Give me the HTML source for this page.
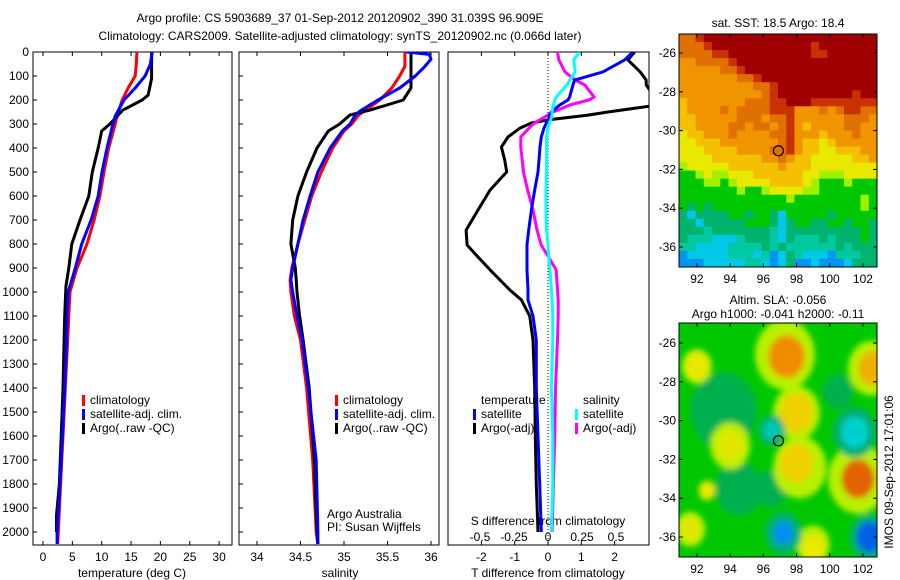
<!DOCTYPE html>
<html><head><meta charset="utf-8"><style>
html,body{margin:0;padding:0;background:#fff;}
svg{display:block;font-family:"Liberation Sans",sans-serif;font-size:12px;}
</style></head><body>
<svg id="c" width="900" height="580" xmlns="http://www.w3.org/2000/svg">
<defs>
<clipPath id="cp1"><rect x="33" y="52" width="199" height="493"/></clipPath>
<clipPath id="cp2"><rect x="239" y="52" width="200" height="493"/></clipPath>
<clipPath id="cp3"><rect x="448" y="52" width="201" height="493"/></clipPath>
<clipPath id="cpm1"><rect x="679" y="34" width="198" height="233"/></clipPath>
<clipPath id="cpm2"><rect x="679" y="323" width="198" height="234"/></clipPath>
<filter id="bl" x="-10%" y="-10%" width="120%" height="120%"><feGaussianBlur stdDeviation="3"/></filter>
</defs>
<text x="340" y="22" text-anchor="middle">Argo profile: CS 5903689_37 01-Sep-2012 20120902_390 31.039S 96.909E</text>
<text x="340" y="40" text-anchor="middle">Climatology: CARS2009. Satellite-adjusted climatology: synTS_20120902.nc (0.066d later)</text>
<g id="g"></g>
</svg>
<script>
// ---------------- data ----------------
const depthT   = [0,50,100,150,200,267,300,400,500,600,700,800,900,1000,1100,1200,1400,1600,1800,2000,2050];
const tempClim = [16,15.9,15.7,14.5,13.5,12.6,12.3,11.2,10.4,9.7,8.7,7.5,5.8,4.6,4.4,4.2,3.8,3.4,3.0,2.6,2.5];
const tempSat  = [18.6,18.3,17.4,15.7,13.8,12.3,11.9,10.9,10.05,9.4,8.2,6.6,5.5,4.3,4.1,4.0,3.7,3.3,2.9,2.4,2.4];
const depthArgo = [0,110,180,200,242,300,329,400,500,600,700,800,900,977,1100,1200,1400,1600,1800,1930,2000];
const tempArgo  = [18.5,18.5,17.9,16.9,13.6,11.4,10.0,9.4,8.4,7.8,6.3,4.9,4.4,3.9,3.7,3.6,3.4,3.1,2.8,2.3,2.3];
const depthS   = [0,10,30,60,100,150,200,242,262,300,329,400,500,600,700,800,900,950,1000,1100,1200,1400,1700,2000,2050];
const salClim  = [35.7,35.7,35.7,35.7,35.64,35.55,35.41,35.25,35.17,35.09,35.0,34.87,34.74,34.63,34.55,34.47,34.4,34.38,34.39,34.43,34.5,34.57,34.64,34.68,34.7];
const salSat   = [35.72,35.98,36.0,35.93,35.82,35.64,35.39,35.2,35.13,35.07,34.98,34.84,34.7,34.61,34.53,34.47,34.41,34.39,34.41,34.46,34.52,34.59,34.68,34.7,34.7];
const salArgo  = [35.77,35.77,35.77,35.77,35.77,35.77,35.68,35.3,35.07,34.95,34.82,34.69,34.57,34.47,34.41,34.39,34.44,34.45,34.46,34.49,34.53,34.6,34.66,34.69,34.7];
const depthD = [0,33,83,117,137,188,200,221,250,263,283,296,317,354,396,450,500,575,658,742,804,850,908,992,1033,1100,1200,1400,1600,1800,2000];
const dTsat  = [2.55,2.3,1.65,0.8,0.75,0.65,0.6,0.35,0.1,0.05,0.02,-0.05,-0.12,-0.2,-0.24,-0.27,-0.3,-0.4,-0.5,-0.58,-0.63,-0.63,-0.63,-0.6,-0.6,-0.45,-0.35,-0.35,-0.3,-0.25,-0.2];
const dTargo = [2.6,2.4,2.77,2.95,2.95,3.2,3.6,3.3,1.8,1.2,0.0,-0.5,-0.84,-1.2,-1.4,-1.3,-1.24,-1.74,-2.1,-2.46,-2.43,-2.13,-1.74,-1.14,-0.8,-0.55,-0.45,-0.4,-0.38,-0.35,-0.3];
const dSsat  = [0.23,0.19,0.2,0.16,0.14,0.06,0.05,0.04,0.03,0.03,0.02,0.01,0.0,-0.01,-0.01,-0.01,-0.01,-0.015,-0.015,-0.01,0.0,0.005,0.015,0.025,0.03,0.035,0.035,0.025,0.035,0.035,0.025];
const dSargo = [0.07,0.08,0.125,0.2,0.27,0.34,0.3,0.16,0.04,0.0,-0.06,-0.1,-0.14,-0.2,-0.2,-0.19,-0.18,-0.15,-0.11,-0.08,-0.05,0.0,0.06,0.07,0.075,0.075,0.07,0.055,0.05,0.04,0.03];
const depthTicks = [0,100,200,300,400,500,600,700,800,900,1000,1100,1200,1300,1400,1500,1600,1700,1800,1900,2000];
const tTicks = [0,5,10,15,20,25,30];
const sTicks = [34,34.5,35,35.5,36];
const sTickLabels = ["34","34.5","35","35.5","36"];
const dTTicks = [-2,-1,0,1,2];
const dSTicks = [-0.5,-0.25,0,0.25,0.5];
const dSTickLabels = ["-0.5","-0.25","0","0.25","0.5"];
const latTicks = [-26,-28,-30,-32,-34,-36];
const lonTicks = [92,94,96,98,100,102];
const sstRows = [
"oorRRRRRRRRRRRRRRRRRRRRR","ooorRRRRRRRRRRRRrRRRRRRR","oooorrRRRRRRRRRRrrRRRRRR","OOoooorRRRRRRRRRRRRRRRRR",
"OOOOOoorRRRRRRRRRRRRRRRR","OOOOOOOoorRRRRRRRRRRRRRR","OOOOOOOOOoorRRRRRRRRRRRR","OOOOOOOOOOorRRRRRRRRRrRR",
"YOOOOOOOooorrRRRrrrrrrrr","YOOOOoOoooorrrOOOoOorroo","YYOOOOOoooOoorOOOOOOoooO","YYOOOOooOooOorOYOOOOooOO",
"yYYOOOoOOOOoorOOOYOOOoOO","yyYYYOOOOOOOorOYYyYOOOOO","yyyYYYYOOOOoorOYYyyYYYOO","yyyyYYYYYYOOoOYYyyyyyYYO",
"lyyyyyYYYYYYOYYYyyyyyyyy","GGlyllyyyYYYYYYyylllyyyy","GGGllGlyyyyYYYYylGGGlGGG","GGGGGGGlGGlyyyyllGGGGGGG",
"GGGGGGGGGGGGGlGGGGGGGGlG","GgGgGGGGGGGGGGGGGGGGGGlG","gcggggGGgGGgcGGGGGgGGGGG","ggcgggggGGGgcgGGggGGgGGg",
"gggtgggggggtcgggggggggGg","gtttccctgggtcgtttgtgggGg","ttccccttttgtgttttttgtggg","bccccctttctbcgtcccbtttgg",
"bbbcccccttcbcgbbcbbbcggg"];
const blobLon = [97.4,92.0,102.6,98.0,101.5,96.5,98.0,94.0,101.7,97.2,102.4,99.0,91.6,92.6];
const blobLat = [-26.7,-27.2,-27.3,-29.6,-30.6,-30.5,-32.2,-31.3,-33.0,-35.8,-36.0,-36.6,-35.6,-33.6];
const blobR   = [1.1,0.7,0.9,1.0,0.8,0.5,1.0,0.8,1.0,0.6,0.8,0.7,0.6,0.5];
const blobCol = ["#f08c00","#e8e800","#f0b000","#f0d000","#00d0d0","#00c8b0","#f0d000","#e0e800","#e06400","#0090f0","#0060e8","#e8e800","#e0e800","#e8e800"];
// ---------------- helpers ----------------
const NS="http://www.w3.org/2000/svg";
const G=document.getElementById('g');
function mk(tag,attrs,parent){const e=document.createElementNS(NS,tag);for(const k in attrs)e.setAttribute(k,attrs[k]);(parent||G).appendChild(e);return e;}
const yD = d => 52 + d*0.24;
const xT = t => 43 + t*5.87;
const xS = s => 257 + (s-34)*87;
const xdT = t => 548 + t*33.3;
const xdS = s => 548 + s*136;
function line(xs,ds,fx,col,clip,name,w){
  const pts = xs.map((v,i)=>fx(v).toFixed(1)+','+yD(ds[i]).toFixed(1)).join(' ');
  const p=mk('polyline',{points:pts,fill:'none',stroke:col,'stroke-width':w||3,'clip-path':'url(#'+clip+')','stroke-linejoin':'round'});
  
  
}
function txt(x,y,s,anchor,name){const t=mk('text',{x:x,y:y,'text-anchor':anchor||'start'});t.textContent=s;
  
  
  return t;}
function frame(x,w,name){const r=mk('rect',{x:x,y:52,width:w,height:493,fill:'none',stroke:'#000','stroke-width':1});
  
  }
// ---------------- panel 1 ----------------
frame(33,199,'temperature-panel');
depthTicks.forEach(d=>{mk('line',{x1:33,x2:37,y1:yD(d),y2:yD(d),stroke:'#000'});
  txt(29,yD(d)+4,String(d),'end','depth-tick-label');});
tTicks.forEach(t=>{mk('line',{x1:xT(t),x2:xT(t),y1:52,y2:56,stroke:'#000'});mk('line',{x1:xT(t),x2:xT(t),y1:545,y2:541,stroke:'#000'});
  txt(xT(t),561,String(t),'middle','temperature-tick-label');});
txt(132,577,'temperature (deg C)','middle','temperature-axis-title');
line(tempClim,depthT,xT,'#ff0000','cp1','temp-climatology-line');
line(tempArgo,depthArgo,xT,'#000000','cp1','temp-argo-line');
line(tempSat,depthT,xT,'#0000ff','cp1','temp-satellite-line');
// ---------------- panel 2 ----------------
frame(239,200,'salinity-panel');
depthTicks.forEach(d=>{mk('line',{x1:239,x2:243,y1:yD(d),y2:yD(d),stroke:'#000'});});
sTicks.forEach((s,i)=>{mk('line',{x1:xS(s),x2:xS(s),y1:52,y2:56,stroke:'#000'});mk('line',{x1:xS(s),x2:xS(s),y1:545,y2:541,stroke:'#000'});
  txt(xS(s),561,sTickLabels[i],'middle','salinity-tick-label');});
txt(340,577,'salinity','middle','salinity-axis-title');
line(salClim,depthS,xS,'#ff0000','cp2','sal-climatology-line');
line(salArgo,depthS,xS,'#000000','cp2','sal-argo-line');
line(salSat,depthS,xS,'#0000ff','cp2','sal-satellite-line');
txt(327,518,'Argo Australia','start','credit-line-1');
txt(327,531,'PI: Susan Wijffels','start','credit-line-2');
[[82,'temperature-legend'],[335,'salinity-legend']].forEach(([lx,nm])=>{
  const items=[['#ff0000','climatology'],['#0000ff','satellite-adj. clim.'],['#000000','Argo(..raw -QC)']];
  items.forEach((it,i)=>{const y=404+i*14;mk('rect',{x:lx,y:y-9,width:3,height:11,fill:it[0]});txt(lx+8,y,it[1],'start',nm+'-entry');});
});
// ---------------- panel 3 ----------------
frame(448,201,'difference-panel');
mk('line',{x1:548,x2:548,y1:52,y2:545,stroke:'#000','stroke-dasharray':'1,2'});
dTTicks.forEach(t=>{mk('line',{x1:xdT(t),x2:xdT(t),y1:52,y2:56,stroke:'#000'});mk('line',{x1:xdT(t),x2:xdT(t),y1:545,y2:541,stroke:'#000'});
  txt(xdT(t),561,String(t),'middle','t-diff-tick-label');});
dSTicks.forEach((s,i)=>{txt(xdS(s),541,dSTickLabels[i],'middle','s-diff-tick-label');});
txt(548,525,'S difference from climatology','middle','s-diff-axis-title');
txt(548,577,'T difference from climatology','middle','t-diff-axis-title');
line(dTargo,depthD,xdT,'#000000','cp3','t-diff-argo-line');
line(dSargo,depthD,xdS,'#ff00ff','cp3','s-diff-argo-line');
line(dTsat,depthD,xdT,'#0000ff','cp3','t-diff-satellite-line');
line(dSsat,depthD,xdS,'#00ffff','cp3','s-diff-satellite-line');
txt(481,404,'temperature','start','diff-legend-temperature-header');
txt(583,404,'salinity','start','diff-legend-salinity-header');
[[473,'#0000ff','satellite',418],[473,'#000000','Argo(-adj)',432],[575,'#00ffff','satellite',418],[575,'#ff00ff','Argo(-adj)',432]].forEach(it=>{
  mk('rect',{x:it[0],y:it[3]-9,width:3,height:11,fill:it[1]});txt(it[0]+8,it[3],it[2],'start','diff-legend-entry');});
// ---------------- maps ----------------
const colMap={R:'#a00000',r:'#c83200',o:'#e07000',O:'#f09400',Y:'#f5c000',y:'#e8e800',l:'#a0f000',G:'#00c800',g:'#00b46e',t:'#00c8a0',c:'#00c8e6',b:'#0096f0',B:'#0050e0'};
const mlon = lon => 679 + (lon-90.92)*16.6;
function mapAxes(top,h,lat26,name){
  const yl = lat => lat26 + (-26-lat)*19.4;
  const r=mk('rect',{x:679,y:top,width:198,height:h,fill:'none',stroke:'#000'});
  
  
  latTicks.forEach(l=>{mk('line',{x1:679,x2:683,y1:yl(l),y2:yl(l),stroke:'#000'});mk('line',{x1:877,x2:873,y1:yl(l),y2:yl(l),stroke:'#000'});
    txt(676,yl(l)+4,String(l),'end',name+'-lat-label');});
  lonTicks.forEach(l=>{mk('line',{x1:mlon(l),x2:mlon(l),y1:top,y2:top+4,stroke:'#000'});mk('line',{x1:mlon(l),x2:mlon(l),y1:top+h,y2:top+h-4,stroke:'#000'});
    txt(mlon(l),top+h+16,String(l),'middle',name+'-lon-label');});
  const c=mk('circle',{cx:mlon(96.909),cy:yl(-31.039),r:5,fill:'none',stroke:'#000','stroke-width':1.2});
  
  
}
const gs=mk('g',{'clip-path':'url(#cpm1)'});


const cw=198/24, ch=233/sstRows.length;
sstRows.forEach((row,ri)=>{for(let ci=0;ci<row.length;ci++){
  mk('rect',{x:(679+ci*cw).toFixed(2),y:(34+ri*ch).toFixed(2),width:(cw+0.6).toFixed(2),height:(ch+0.6).toFixed(2),fill:colMap[row[ci]]},gs);}});
mapAxes(34,233,53,'sst-map');
txt(778,27,'sat. SST: 18.5 Argo: 18.4','middle','sst-map-title');
const ga=mk('g',{'clip-path':'url(#cpm2)'});


mk('rect',{x:679,y:323,width:198,height:234,fill:'#00c800'},ga);
const gb=mk('g',{filter:'url(#bl)'},ga);
[[93.6,-29.5,2.0,'#00b050'],[94.5,-33.5,1.4,'#00b050'],[96.5,-33.5,1.0,'#00b050'],[100.5,-28.5,0.9,'#00b050']].forEach(b=>mk('ellipse',{cx:mlon(b[0]),cy:343+(-26-b[1])*19.4,rx:b[2]*16.6,ry:b[2]*19.4,fill:b[3]},gb));
[[97.3,-26.6,1.8],[102.5,-27.3,1.4],[98,-29.6,1.4],[98.2,-32.4,1.6],[94,-31.3,1.2],[101.7,-33.0,1.8],[99,-36.4,1.0],[92,-27.2,0.9],[91.6,-35.6,0.9]].forEach(b=>mk('ellipse',{cx:mlon(b[0]),cy:343+(-26-b[1])*19.4,rx:b[2]*16.6,ry:b[2]*19.4,fill:'#b8f000'},gb));
[[101.5,-30.6,1.3],[97.2,-35.8,1.1],[102.4,-36,1.2],[96.5,-30.5,0.8]].forEach(b=>mk('ellipse',{cx:mlon(b[0]),cy:343+(-26-b[1])*19.4,rx:b[2]*16.6,ry:b[2]*19.4,fill:'#00b070'},gb));
blobLon.forEach((lon,i)=>{
  const e=mk('ellipse',{cx:mlon(lon),cy:343+(-26-blobLat[i])*19.4,rx:blobR[i]*16.6,ry:blobR[i]*19.4,fill:blobCol[i]},gb);
  
  });
mapAxes(323,234,343,'sla-map');
txt(778,304,'Altim. SLA: -0.056','middle','sla-map-title-1');
txt(778,318,'Argo h1000: -0.041 h2000: -0.11','middle','sla-map-title-2');
const ts=txt(0,0,'IMOS 09-Sep-2012 17:01:06','middle','timestamp');
ts.setAttribute('transform','translate(893,472) rotate(-90)');
</script>
</body></html>
